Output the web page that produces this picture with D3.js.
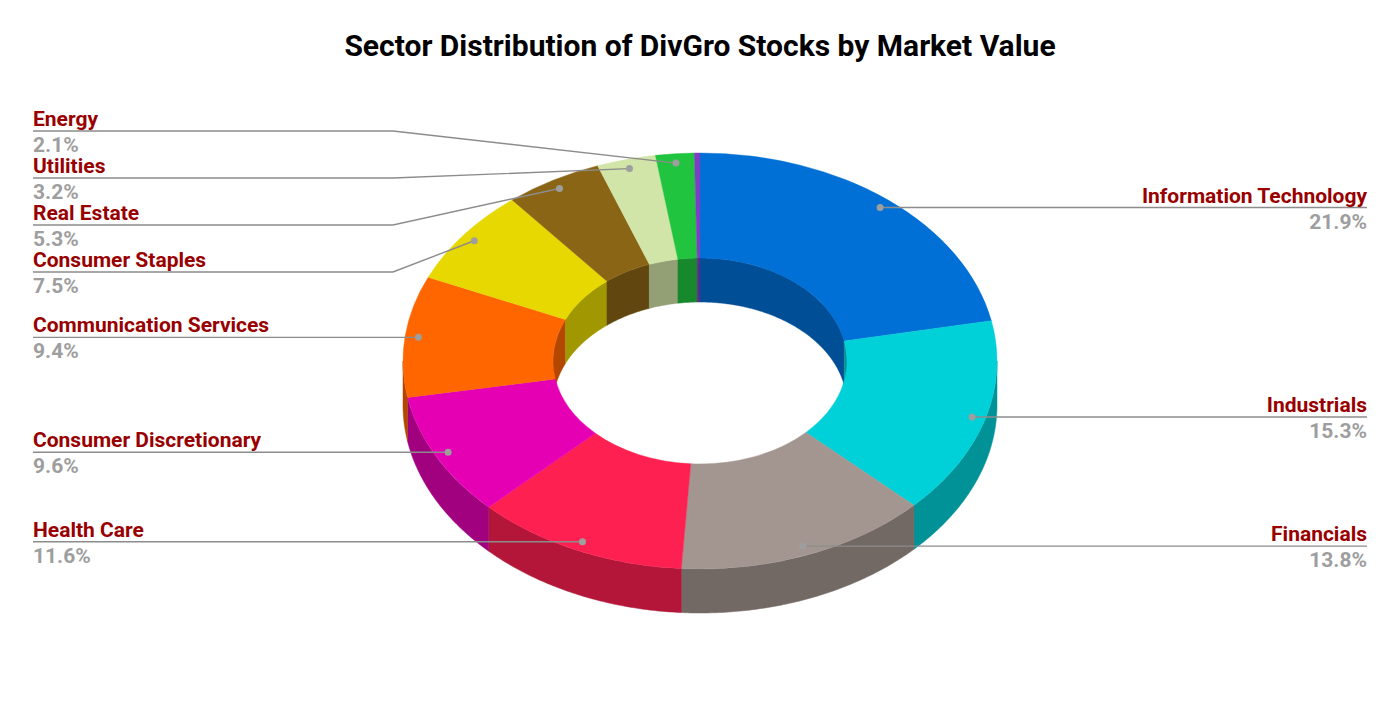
<!DOCTYPE html>
<html>
<head>
<meta charset="utf-8">
<script src="https://cdn.jsdelivr.net/npm/d3@7"></script>
<style>
  body { margin: 0; background: #fff; }
  text { font-family: Roboto, "Noto Sans", sans-serif; }
</style>
</head>
<body>
<svg></svg>
<script>
"use strict";

// Data
const sectors = ["Information Technology", "Industrials", "Financials", "Health Care",
  "Consumer Discretionary", "Communication Services", "Consumer Staples",
  "Real Estate", "Utilities", "Energy", "Materials"];
const values = [21.9, 15.3, 13.8, 11.6, 9.6, 9.4, 7.5, 5.3, 3.2, 2.1, 0.3];
const colors = ["#0070d6", "#00d0d8", "#a39690", "#ff2052", "#e600b4", "#ff6600",
  "#e6d800", "#8b6516", "#d2e5a8", "#21c43f", "#7b3fc4"];
const title = "Sector Distribution of DivGro Stocks by Market Value";

// Sizes and chart options
const width = 1400, height = 708;
const cx = 700, cy = 361, rx = 297, ry = 208, hole = 0.495, depth = 44;
const yr = ry / rx;
const gap = 47, minY = 131, maxY = 660;

const data = sectors.map((s, i) => ({ name: s, value: values[i], color: colors[i] }));
const arcs = d3.pie().sort(null).value(d => d.value)(data);

const svg = d3.select("svg")
  .attr("width", width)
  .attr("height", height);

svg.append("text")
  .attr("x", width / 2)
  .attr("y", 56)
  .attr("text-anchor", "middle")
  .attr("font-size", 30)
  .attr("font-weight", "bold")
  .attr("fill", "#000")
  .text(title);

const side = c => {
  const k = d3.rgb(c);
  return d3.rgb(k.r * 0.7, k.g * 0.7, k.b * 0.7).formatHex();
};

// wall of the ring between two angles, at x radius r
const wall = (a0, a1, r) => {
  const n = Math.max(2, Math.ceil((a1 - a0) / 0.01));
  const ts = d3.range(n + 1).map(i => a0 + (a1 - a0) * i / n);
  const pt = (t, dy) => [cx + r * Math.sin(t), cy - r * yr * Math.cos(t) + dy];
  const pts = ts.map(t => pt(t, 0)).concat(ts.slice().reverse().map(t => pt(t, depth)));
  return d3.line()(pts) + "Z";
};

const clip = (a0, a1, lo, hi) => {
  const s = Math.max(a0, lo), e = Math.min(a1, hi);
  return e > s ? [s, e] : null;
};

const walls = svg.append("g");

// inner back wall (seen through the hole)
arcs.forEach(a => {
  [[0, Math.PI / 2], [1.5 * Math.PI, 2 * Math.PI]].forEach(([lo, hi]) => {
    const c = clip(a.startAngle, a.endAngle, lo, hi);
    if (c) walls.append("path")
      .attr("d", wall(c[0], c[1], rx * hole))
      .attr("fill", side(a.data.color))
      .attr("stroke", side(a.data.color))
      .attr("stroke-width", 0.5);
  });
});

// outer front wall
arcs.forEach(a => {
  const c = clip(a.startAngle, a.endAngle, Math.PI / 2, 1.5 * Math.PI);
  if (c) walls.append("path")
    .attr("d", wall(c[0], c[1], rx))
    .attr("fill", side(a.data.color))
    .attr("stroke", side(a.data.color))
    .attr("stroke-width", 0.5);
});

// top faces
const arc = d3.arc().innerRadius(rx * hole).outerRadius(rx);
svg.append("g")
  .attr("transform", `translate(${cx}, ${cy}) scale(1, ${yr})`)
  .selectAll("path")
  .data(arcs)
  .join("path")
    .attr("d", arc)
    .attr("fill", d => d.data.color)
    .attr("stroke", d => d.data.color)
    .attr("stroke-width", 0.5);

// Labels
const labelled = arcs.filter(a => a.data.value >= 1).map(a => {
  const mid = (a.startAngle + a.endAngle) / 2;
  return {
    d: a.data,
    left: Math.sin(mid) < 0,
    x: cx + rx * 0.955 * Math.sin(mid),
    y: cy - ry * 0.955 * Math.cos(mid)
  };
});

const layout = items => {
  items.sort((a, b) => a.y - b.y);
  let groups = items.map(d => ({ items: [d] }));
  const place = g => {
    const n = g.items.length;
    let top = d3.mean(g.items, d => d.y) - (n - 1) * gap / 2;
    top = Math.max(minY, Math.min(maxY - (n - 1) * gap, top));
    g.top = top;
  };
  groups.forEach(place);
  let merged = true;
  while (merged) {
    merged = false;
    for (let i = 0; i < groups.length - 1; i++) {
      const g = groups[i], h = groups[i + 1];
      if (g.top + g.items.length * gap > h.top) {
        g.items = g.items.concat(h.items);
        place(g);
        groups.splice(i + 1, 1);
        merged = true;
        break;
      }
    }
  }
  groups.forEach(g => g.items.forEach((d, i) => { d.ly = g.top + i * gap; }));
};

layout(labelled.filter(d => d.left));
layout(labelled.filter(d => !d.left));

const labels = svg.append("g");
labelled.forEach(l => {
  const lx = l.left ? 33 : 1367;
  const ex = l.left ? cx - rx - 10 : cx + rx + 10;
  labels.append("path")
    .attr("d", d3.line()([[lx, l.ly], [ex, l.ly], [l.x, l.y]]))
    .attr("fill", "none")
    .attr("stroke", "#8c8c8c")
    .attr("stroke-width", 1.4);
  labels.append("circle")
    .attr("cx", l.x)
    .attr("cy", l.y)
    .attr("r", 3.5)
    .attr("fill", "#9e9e9e");
  labels.append("text")
    .attr("x", lx)
    .attr("y", l.ly - 5)
    .attr("text-anchor", l.left ? "start" : "end")
    .attr("font-size", 21)
    .attr("font-weight", "bold")
    .attr("fill", "#990000")
    .text(l.d.name);
  labels.append("text")
    .attr("x", lx)
    .attr("y", l.ly + 21)
    .attr("text-anchor", l.left ? "start" : "end")
    .attr("font-size", 21)
    .attr("font-weight", "bold")
    .attr("fill", "#9e9e9e")
    .text(l.d.value.toFixed(1) + "%");
});
</script>
</body>
</html>
